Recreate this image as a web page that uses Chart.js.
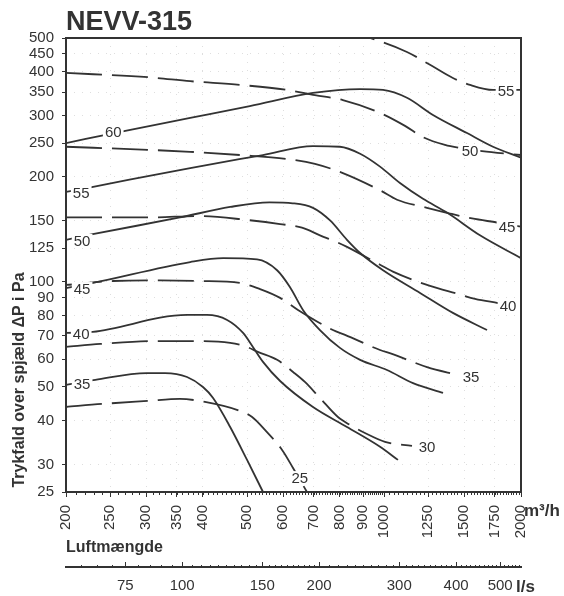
<!DOCTYPE html>
<html>
<head>
<meta charset="utf-8">
<script src="https://cdn.jsdelivr.net/npm/chart.js@4"></script>
<style>
  body { margin: 0; background: #fff; }
</style>
</head>
<body>
<canvas id="chart" width="564" height="596"></canvas>
<script>
// axis ticks
const xTicks = [200, 250, 300, 350, 400, 500, 600, 700, 800, 900, 1000, 1250, 1500, 1750, 2000];
const yTicks = [25, 30, 40, 50, 60, 70, 80, 90, 100, 125, 150, 200, 250, 300, 350, 400, 450, 500];
const lsTicks = [75, 100, 150, 200, 300, 400, 500];

// solid curves [m3/h, Pa]
const solid60 = [[200,250],[270,271],[375,295],[507,319],[698,348],[886,357],[995,355],[1123,337],[1281,301],[1522,267],[1736,244],[2000,227]];
const solid55 = [[200,181],[228,187],[375,212],[542,231],[698,245],[800,244],[886,233],[980,214],[1084,192],[1218,173],[1375,158],[1625,136],[2000,117]];
const solid50 = [[200,132],[229,137],[356,153],[459,164],[560,169],[630,168],[698,163],[761,150],[829,132],[886,121],[995,108],[1200,93],[1417,81.5],[1684,72.8]];
const solid45 = [[200,96],[229,99.3],[375,114],[443,117],[526,116],[582,108],[621,96.7],[664,83],[723,72.8],[800,64.7],[886,59.8],[1015,55.9],[1158,51.3],[1348,48.1]];
const solid40 = [[200,71.4],[229,71.9],[369,80.4],[408,80.4],[452,77.8],[490,71.4],[515,65.1],[542,59],[591,52],[698,43.8],[829,38.4],[980,33.7],[1073,30.9]];
const solid35 = [[200,50.7],[232,52.4],[301,54.8],[330,54.8],[369,53.4],[400,50],[421,46.5],[459,38.4],[500,30.9],[542,25]];

// dashed curves [m3/h, Pa]
const dash55 = [[800,530],[932,500],[1123,456],[1262,419],[1417,384],[1545,367],[1736,355],[2000,355]];
const dash50 = [[200,397],[303,386],[375,376],[482,367],[612,355],[705,343],[812,332],[980,305],[1112,280],[1218,260],[1361,247],[1469,242],[1642,237],[2000,231]];
const dash45 = [[200,244],[303,239],[375,236],[482,231],[612,225],[705,218],[812,205],[980,183],[1068,172],[1243,163],[1396,157],[1561,152],[1771,148],[2000,144]];
const dash40 = [[200,153],[306,153],[394,154.5],[500,150.5],[591,146.5],[660,143],[723,136],[788,130],[829,126],[980,112],[1046,107],[1262,97.4],[1454,92.4],[1585,89.4],[1780,87]];
const dash35 = [[200,98],[254,100.6],[322,101],[394,100.6],[482,99.3],[534,95.4],[591,90],[647,83.1],[772,72.8],[821,70.5],[980,63.8],[1041,62.2],[1243,57],[1454,54.1]];
const dash30 = [[200,65.1],[238,66.4],[317,67.7],[394,67.7],[459,66.9],[500,65.1],[528,63],[582,59.8],[631,55.2],[670,51.7],[723,46.5],[792,41],[842,38.9],[908,36.9],[1005,34.8],[1152,33.9]];
const dash25 = [[200,43.8],[240,44.7],[303,45.6],[356,46.2],[404,45.3],[482,42.7],[513,41],[548,37.6],[597,33],[631,29.3],[653,27.1],[677,25],[700,23]];

// curve labels [text, m3/h, Pa]
const solidLabels = [['60',254,269],['55',216,180],['50',217,131],['45',217,95.4],['40',216,71],['35',217,51]];
const dashLabels = [['55',1854,352],['50',1545,237],['45',1863,144],['40',1873,85.3],['35',1553,53.4],['30',1243,33.7],['25',653,27.4]];

const ink = '#333';
const fam = '"Liberation Sans", Arial, sans-serif';

const solidCurves = [solid60, solid55, solid50, solid45, solid40, solid35];
const dashCurves = [dash55, dash50, dash45, dash40, dash35, dash30, dash25];

function toSet(pts, dash) {
    return {
        data: pts.map(([x, y]) => ({x: x, y: y})),
        borderColor: ink,
        borderWidth: 1.8,
        borderDash: dash,
        pointRadius: 0,
        showLine: true,
        cubicInterpolationMode: 'monotone'
    };
}

const annotate = {
    id: 'annotate',
    afterDatasetsDraw(chart) {
        const ctx = chart.ctx;
        const a = chart.chartArea;
        const x = chart.scales.x, y = chart.scales.y, x2 = chart.scales.x2;
        ctx.save();

        // curve labels on white patches
        ctx.font = '15px ' + fam;
        ctx.textAlign = 'center';
        ctx.textBaseline = 'middle';
        solidLabels.concat(dashLabels).forEach(([txt, vx, vy]) => {
            const px = x.getPixelForValue(vx);
            const py = y.getPixelForValue(vy);
            const w = ctx.measureText(txt).width + 4;
            ctx.fillStyle = '#fff';
            ctx.fillRect(px - w / 2, py - 7, w, 14);
            ctx.fillStyle = ink;
            ctx.fillText(txt, px, py + 1);
        });

        // frame
        ctx.strokeStyle = ink;
        ctx.lineWidth = 2;
        ctx.strokeRect(a.left, a.top, a.right - a.left, a.bottom - a.top);

        // minor ticks under the m3/h axis
        ctx.lineWidth = 1;
        ctx.beginPath();
        for (let v = 200; v <= 2000; v += (v < 1000 ? 10 : 25)) {
            const px = Math.round(x.getPixelForValue(v)) + 0.5;
            ctx.moveTo(px, a.bottom);
            ctx.lineTo(px, a.bottom + 3);
        }
        // ticks on the l/s axis
        const ly = x2.top + 1;
        for (let v = 60; v <= 555; v += (v < 200 ? 5 : 10)) {
            const px = Math.round(x2.getPixelForValue(v)) + 0.5;
            ctx.moveTo(px, ly);
            ctx.lineTo(px, ly - 3);
        }
        lsTicks.forEach(v => {
            const px = Math.round(x2.getPixelForValue(v)) + 0.5;
            ctx.moveTo(px, ly);
            ctx.lineTo(px, ly - 6);
        });
        ctx.stroke();

        // texts
        ctx.fillStyle = ink;
        ctx.textAlign = 'left';
        ctx.textBaseline = 'alphabetic';
        ctx.font = 'bold 27px ' + fam;
        ctx.fillText('NEVV-315', 66, 30);
        ctx.font = 'bold 16px ' + fam;
        ctx.fillText('Luftmængde', 66, 552);
        ctx.font = 'bold 17px ' + fam;
        ctx.fillText('m³/h', 524, 516);
        ctx.fillText('l/s', 516, 592);

        ctx.save();
        ctx.font = 'bold 16px ' + fam;
        ctx.translate(20, 380);
        ctx.rotate(-Math.PI / 2);
        ctx.textAlign = 'center';
        ctx.textBaseline = 'middle';
        ctx.fillText('Trykfald over spjæld \u0394P i Pa', 0, 0);
        ctx.restore();

        ctx.restore();
    }
};

const tickFont = {family: fam, size: 15};

new Chart(document.getElementById('chart'), {
    type: 'scatter',
    data: {
        datasets: [
            ...solidCurves.map(p => toSet(p, [])),
            ...dashCurves.map(p => toSet(p, [36, 10]))
        ]
    },
    options: {
        responsive: false,
        animation: false,
        devicePixelRatio: 1,
        layout: {padding: {top: 38, left: 0, right: 43, bottom: 0}},
        plugins: {legend: {display: false}, tooltip: {enabled: false}},
        scales: {
            x: {
                type: 'logarithmic',
                position: 'bottom',
                min: 200,
                max: 2000,
                weight: 0,
                afterBuildTicks: s => { s.ticks = xTicks.map(v => ({value: v})); },
                afterFit: s => { s.height = 75; s.paddingLeft = 0; s.paddingRight = 0; },
                ticks: {
                    autoSkip: false,
                    minRotation: 90,
                    maxRotation: 90,
                    padding: 8,
                    color: ink,
                    font: tickFont,
                    callback: v => String(v)
                },
                grid: {color: '#dedede', tickColor: ink, tickLength: 5, tickWidth: 1},
                border: {display: false, dash: [1, 7]}
            },
            x2: {
                type: 'logarithmic',
                position: 'bottom',
                min: 200 / 3.6,
                max: 2000 / 3.6,
                weight: 1,
                afterBuildTicks: s => { s.ticks = lsTicks.map(v => ({value: v})); },
                afterFit: s => { s.height = 29; s.paddingLeft = 0; s.paddingRight = 0; },
                ticks: {
                    autoSkip: false,
                    minRotation: 0,
                    maxRotation: 0,
                    padding: 10,
                    color: ink,
                    font: tickFont,
                    callback: v => String(v)
                },
                grid: {display: false, drawTicks: false},
                border: {display: true, color: ink, width: 2}
            },
            y: {
                type: 'logarithmic',
                min: 25,
                max: 500,
                afterBuildTicks: s => { s.ticks = yTicks.map(v => ({value: v})); },
                afterFit: s => { s.width = 66; s.paddingTop = 0; s.paddingBottom = 0; },
                ticks: {
                    autoSkip: false,
                    padding: 8,
                    color: ink,
                    font: tickFont,
                    callback: v => String(v)
                },
                grid: {color: '#dedede', tickColor: ink, tickLength: 4, tickWidth: 1},
                border: {display: false, dash: [1, 7]}
            }
        }
    },
    plugins: [annotate]
});
</script>
</body>
</html>
